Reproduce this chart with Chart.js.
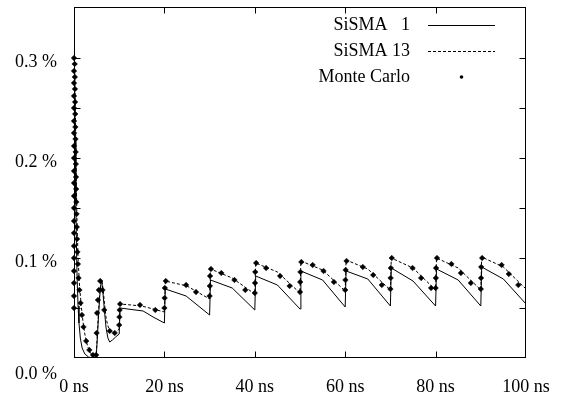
<!DOCTYPE html>
<html>
<head>
<meta charset="utf-8">
<script src="https://cdn.jsdelivr.net/npm/chart.js@4.4.1/dist/chart.umd.min.js"></script>
<style>
  html, body { margin: 0; padding: 0; background: #fff; }
  #wrap { width: 561px; height: 400px; }
</style>
</head>
<body>
<div id="wrap"><canvas id="c" width="561" height="400"></canvas></div>
<script>
// ---- data (time in ns, value in %) ----
const seriesNames = ['SiSMA   1', 'SiSMA 13', 'Monte Carlo'];

const sisma1T = [0, 0.08, 0.25, 0.4, 0.55, 0.7, 0.9, 1.1, 1.4, 1.8, 2.4, 3.2, 4.0, 4.9,
  5.1, 5.4, 5.7, 6.0, 6.2, 6.5, 6.8, 7.1, 7.5, 7.9, 8.5, 9.2, 10.0,
  10.2, 15.3, 17.5, 20.0, 20.2, 24.8, 30.0, 30.2, 35.0, 40.0, 40.2, 45.0, 50.0,
  50.2, 55.0, 60.0, 60.2, 65.0, 70.0, 70.2, 75.0, 80.0, 80.2, 85.0, 90.0, 90.2, 95.0, 100.0];
const sisma1V = [0.05, 0.30, 0.22, 0.155, 0.11, 0.078, 0.052, 0.035, 0.02, 0.01, 0.004, 0.001, 0.0, 0.0,
  0.015, 0.04, 0.062, 0.076, 0.075, 0.060, 0.044, 0.030, 0.020, 0.016, 0.018, 0.021, 0.024,
  0.050, 0.047, 0.041, 0.035, 0.069, 0.062, 0.043, 0.078, 0.070, 0.048, 0.082, 0.073, 0.049,
  0.087, 0.078, 0.051, 0.087, 0.079, 0.052, 0.090, 0.077, 0.052, 0.089, 0.078, 0.052, 0.091, 0.079, 0.054];

const sisma13T = [0, 0.08, 0.25, 0.4, 0.55, 0.7, 0.9, 1.2, 1.6, 2.0, 2.5, 3.0, 3.5, 4.2, 4.9,
  5.1, 5.4, 5.7, 6.0, 6.2, 6.5, 6.8, 7.1, 7.5, 8.0, 9.0, 10.0,
  10.2, 15.0, 20.0, 20.2, 25.0, 30.0, 30.2, 35.0, 40.0, 40.2, 45.0, 50.0,
  50.2, 55.0, 60.0, 60.2, 65.0, 70.0, 70.2, 75.0, 80.0, 80.2, 85.0, 90.0, 90.2, 95.0, 100.0];
const sisma13V = [0.05, 0.30, 0.265, 0.21, 0.165, 0.13, 0.10, 0.074, 0.052, 0.036, 0.021, 0.012, 0.006, 0.002, 0.003,
  0.018, 0.045, 0.065, 0.078, 0.077, 0.066, 0.052, 0.040, 0.032, 0.027, 0.025, 0.029,
  0.054, 0.052, 0.046, 0.077, 0.072, 0.059, 0.089, 0.080, 0.064, 0.095, 0.086, 0.065,
  0.097, 0.088, 0.067, 0.098, 0.089, 0.068, 0.100, 0.090, 0.068, 0.100, 0.090, 0.068, 0.101, 0.091, 0.069];

const mcT = [
  0, 0, 0, 0, 0, 0, 0, 0, 0, 0, 0, 0, 0, 0, 0, 0, 0, 0, 0, 0, 0,
  0.15, 0.18, 0.21, 0.24, 0.27, 0.30, 0.33, 0.36, 0.40, 0.44, 0.48, 0.52, 0.57, 0.62, 0.68, 0.76, 0.86,
  1.0, 1.2, 1.45, 1.75, 2.1, 2.7, 3.4, 4.2,
  4.9, 5.0, 5.1, 5.3, 5.5, 5.8, 6.3, 6.7, 7.9, 9.0,
  10.0, 10.05, 10.1, 10.2, 14.6, 18.0,
  20.0, 20.05, 20.1, 20.3, 24.8, 27.0,
  30.0, 30.05, 30.1, 30.3, 32.6, 35.5, 37.9,
  40.0, 40.05, 40.1, 40.3, 42.5, 45.6, 47.7,
  50.0, 50.05, 50.1, 50.3, 52.8, 55.2, 57.5,
  60.0, 60.05, 60.1, 60.3, 63.9, 66.2, 68.1,
  70.0, 70.05, 70.1, 70.3, 74.9, 76.8, 79.0,
  80.0, 80.05, 80.1, 80.3, 83.5, 85.6, 87.8,
  90.0, 90.05, 90.1, 90.3, 94.6, 96.2, 98.3];
const mcV = [
  0.050, 0.062, 0.075, 0.087, 0.100, 0.112, 0.125, 0.137, 0.150, 0.162, 0.175, 0.187, 0.200, 0.212, 0.225, 0.237, 0.250, 0.262, 0.275, 0.287, 0.300,
  0.294, 0.281, 0.269, 0.256, 0.244, 0.231, 0.219, 0.206, 0.194, 0.181, 0.169, 0.156, 0.144, 0.131, 0.119, 0.106, 0.094,
  0.080, 0.068, 0.055, 0.043, 0.031, 0.017, 0.008, 0.003,
  0.003, 0.025, 0.045, 0.058, 0.068, 0.077, 0.068, 0.048, 0.027, 0.025,
  0.033, 0.041, 0.048, 0.054, 0.053, 0.048,
  0.050, 0.060, 0.070, 0.077, 0.073, 0.066,
  0.062, 0.072, 0.082, 0.089, 0.085, 0.078, 0.068,
  0.065, 0.075, 0.086, 0.095, 0.090, 0.082, 0.072,
  0.066, 0.076, 0.086, 0.096, 0.093, 0.087, 0.076,
  0.068, 0.078, 0.088, 0.097, 0.091, 0.083, 0.073,
  0.069, 0.080, 0.090, 0.100, 0.090, 0.080, 0.070,
  0.070, 0.080, 0.090, 0.100, 0.094, 0.085, 0.075,
  0.069, 0.080, 0.091, 0.100, 0.093, 0.084, 0.073];

const xTickValues = [0, 20, 40, 60, 80, 100];
const xTickLabels = ['0 ns', '20 ns', '40 ns', '60 ns', '80 ns', '100 ns'];
const yTickValues = [0, 0.1, 0.2, 0.3];
const yTickLabels = ['0.0 %', '0.1 %', '0.2 %', '0.3 %'];
const xTickMarks = [20, 40, 60, 80];
const yTickMarks = [0.05, 0.1, 0.15, 0.2, 0.25, 0.3];

// ---- helpers ----
const pts = (t, v) => t.map((x, i) => ({ x: x, y: v[i] }));
const FONT = 'Liberation Serif';
const FSIZE = 18;

const framePlugin = {
  id: 'frame',
  afterDatasetsDraw(chart) {
    const { ctx, chartArea: a, scales } = chart;
    ctx.save();
    ctx.strokeStyle = '#000';
    ctx.lineWidth = 1;
    const L = Math.round(a.left) + 0.5, R = Math.round(a.right) - 0.5;
    const T = Math.round(a.top) + 0.5, B = Math.round(a.bottom) - 0.5;
    ctx.strokeRect(L, T, R - L, B - T);
    const len = 6;
    ctx.beginPath();
    xTickMarks.forEach(v => {
      const x = Math.round(scales.x.getPixelForValue(v)) + 0.5;
      ctx.moveTo(x, B); ctx.lineTo(x, B - len);
      ctx.moveTo(x, T); ctx.lineTo(x, T + len);
    });
    yTickMarks.forEach(v => {
      const y = Math.round(scales.y.getPixelForValue(v)) + 0.5;
      ctx.moveTo(L, y); ctx.lineTo(L + len, y);
      ctx.moveTo(R, y); ctx.lineTo(R - len, y);
    });
    ctx.stroke();
    ctx.restore();
  }
};

const keyPlugin = {
  id: 'key',
  afterDatasetsDraw(chart) {
    const { ctx, chartArea: a } = chart;
    ctx.save();
    ctx.font = FSIZE + 'px "' + FONT + '"';
    ctx.textAlign = 'right';
    ctx.textBaseline = 'middle';
    ctx.fillStyle = '#000';
    chart.data.datasets.forEach((ds, i) => {
      const y = a.top + 18 + i * 26;
      ctx.fillText(ds.label, a.right - 116, y);
      const x0 = a.right - 98, x1 = a.right - 31;
      if (ds.showLine === false) {
        ctx.beginPath();
        ctx.arc((x0 + x1) / 2, y, 1.8, 0, Math.PI * 2);
        ctx.fill();
      } else {
        ctx.beginPath();
        ctx.setLineDash(ds.borderDash || []);
        ctx.lineWidth = 1;
        ctx.strokeStyle = '#000';
        ctx.moveTo(x0, Math.round(y) + 0.5);
        ctx.lineTo(x1, Math.round(y) + 0.5);
        ctx.stroke();
        ctx.setLineDash([]);
      }
    });
    ctx.restore();
  }
};

new Chart(document.getElementById('c'), {
  type: 'line',
  data: {
    datasets: [
      { label: seriesNames[0], data: pts(sisma1T, sisma1V), borderColor: '#000', borderWidth: 1,
        pointRadius: 0, tension: 0, fill: false },
      { label: seriesNames[1], data: pts(sisma13T, sisma13V), borderColor: '#000', borderWidth: 1,
        borderDash: [3, 2], pointRadius: 0, tension: 0, fill: false },
      { label: seriesNames[2], data: pts(mcT, mcV), showLine: false, pointStyle: 'rectRot',
        pointRadius: 2.8, backgroundColor: '#000', borderColor: '#000', borderWidth: 0.5, clip: 6 }
    ]
  },
  options: {
    responsive: false,
    animation: false,
    devicePixelRatio: 1,
    layout: { padding: { top: 7, right: 35, left: 0, bottom: 0 } },
    plugins: { legend: { display: false }, tooltip: { enabled: false } },
    scales: {
      x: {
        type: 'linear', min: 0, max: 100,
        grid: { display: false, drawTicks: false },
        border: { display: false },
        afterBuildTicks: s => { s.ticks = xTickValues.map(v => ({ value: v })); },
        afterFit: s => { s.height = 42; s.paddingLeft = 0; s.paddingRight = 0; },
        ticks: {
          autoSkip: false, maxRotation: 0, padding: 18, color: '#000',
          font: { family: FONT, size: FSIZE },
          callback: v => xTickLabels[xTickValues.indexOf(v)]
        }
      },
      y: {
        type: 'linear', min: 0, max: 0.351,
        grid: { display: false, drawTicks: false },
        border: { display: false },
        afterBuildTicks: s => { s.ticks = yTickValues.map(v => ({ value: v })); },
        afterFit: s => { s.width = 74; s.paddingTop = 0; s.paddingBottom = 0; },
        ticks: {
          autoSkip: false, padding: 17, color: '#000', labelOffset: 4,
          font: ctx => ({ family: FONT, size: FSIZE,
            lineHeight: (ctx.tick && ctx.tick.value === 0) ? 1.4 : 1.2 }),
          callback: v => {
            const lab = yTickLabels[yTickValues.indexOf(v)];
            return v === 0 ? ['', lab] : lab;
          }
        }
      }
    }
  },
  plugins: [framePlugin, keyPlugin]
});
</script>
</body>
</html>
